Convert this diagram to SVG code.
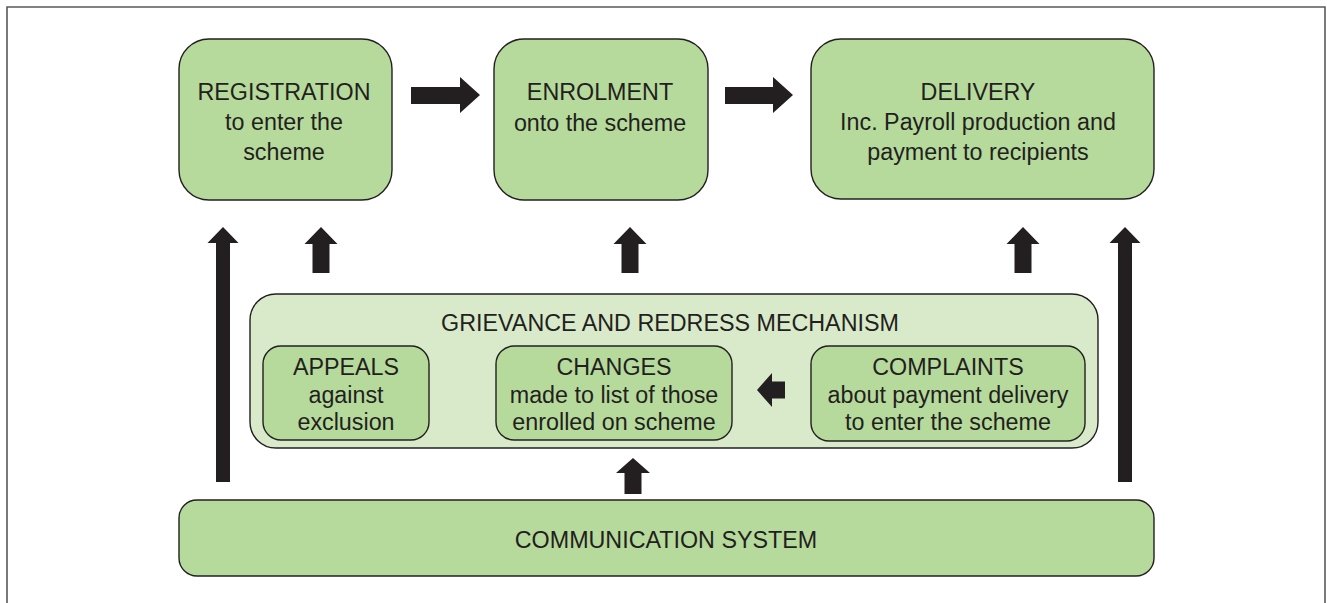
<svg xmlns="http://www.w3.org/2000/svg" width="1327" height="603" viewBox="0 0 1327 603">
<style>
  .box{fill:#b6da9c;stroke:#231f20;stroke-width:1.4}
  .cont{fill:#d9eacb;stroke:#231f20;stroke-width:1.4}
  .arr{fill:#231f20}
  text{font-family:"Liberation Sans",Arial,sans-serif;font-size:23.3px;fill:#231f20;text-anchor:middle}
</style>
<rect x="0" y="0" width="1327" height="603" fill="#ffffff"/>
<path d="M7,610 L7,7 L1325,7 L1325,610" fill="none" stroke="#58595b" stroke-width="1.6"/>

<g id="registration">
  <rect class="box" x="179" y="39" width="213" height="161" rx="30"/>
  <text x="284" y="100">REGISTRATION</text>
  <text x="284" y="130">to enter the</text>
  <text x="284" y="160">scheme</text>
</g>
<g id="enrolment">
  <rect class="box" x="494" y="39" width="214" height="161" rx="30"/>
  <text x="600" y="100">ENROLMENT</text>
  <text x="600" y="131">onto the scheme</text>
</g>
<g id="delivery">
  <rect class="box" x="811" y="39" width="343" height="160" rx="30"/>
  <text x="978" y="100">DELIVERY</text>
  <text x="978" y="130">Inc. Payroll production and</text>
  <text x="978" y="160">payment to recipients</text>
</g>

<g id="grievance">
  <rect class="cont" x="250" y="294" width="848" height="154" rx="26"/>
  <text x="670" y="331">GRIEVANCE AND REDRESS MECHANISM</text>
</g>
<g id="appeals">
  <rect class="box" x="263" y="346" width="166" height="94" rx="18"/>
  <text x="346" y="375">APPEALS</text>
  <text x="346" y="403">against</text>
  <text x="346" y="430">exclusion</text>
</g>
<g id="changes">
  <rect class="box" x="496" y="346" width="236" height="94" rx="18"/>
  <text x="614" y="375">CHANGES</text>
  <text x="614" y="403">made to list of those</text>
  <text x="614" y="430">enrolled on scheme</text>
</g>
<g id="complaints">
  <rect class="box" x="811" y="346" width="274" height="95" rx="18"/>
  <text x="948" y="375">COMPLAINTS</text>
  <text x="948" y="403">about payment delivery</text>
  <text x="948" y="430">to enter the scheme</text>
</g>
<g id="communication">
  <rect class="box" x="179" y="500" width="975" height="76" rx="18"/>
  <text x="666" y="548">COMMUNICATION SYSTEM</text>
</g>

<g id="connectors">
  <!-- horizontal block arrows -->
  <polygon class="arr" points="411,87 460,87 460,77 480,95 460,113 460,104 411,104"/>
  <polygon class="arr" points="725,87 773,87 773,77 793,95 773,113 773,104 725,104"/>
  <!-- small up arrows -->
  <polygon class="arr" points="312.5,273 312.5,244 304.5,244 321,227 337.5,244 329.5,244 329.5,273"/>
  <polygon class="arr" points="621.5,273 621.5,244 613.5,244 630,227 646.5,244 638.5,244 638.5,273"/>
  <polygon class="arr" points="1014.5,273 1014.5,244 1006.5,244 1023,227 1039.5,244 1031.5,244 1031.5,273"/>
  <!-- long up arrows -->
  <polygon class="arr" points="216,482 216,243 207.5,243 223,227 238.5,243 230,243 230,482"/>
  <polygon class="arr" points="1118,482 1118,243 1109.5,243 1125,227 1140.5,243 1132,243 1132,482"/>
  <!-- bottom up arrow to grievance -->
  <polygon class="arr" points="624.5,494 624.5,473 616,473 633,458 650,473 641.5,473 641.5,494"/>
  <!-- left arrow inside grievance -->
  <polygon class="arr" points="785,381.5 772,381.5 772,373 757,390 772,407 772,398.5 785,398.5"/>
</g>
</svg>
